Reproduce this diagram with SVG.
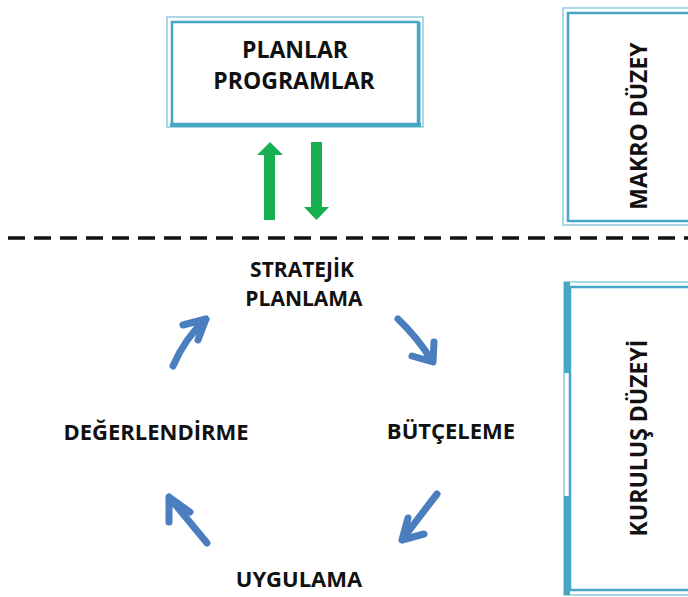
<svg xmlns="http://www.w3.org/2000/svg" width="688" height="597" viewBox="0 0 688 597">
<style>
.t{font-family:"Open Sans","Liberation Sans",sans-serif;font-weight:bold;fill:#111;text-anchor:middle}
.s{font-size:22px}
.m{font-size:21px}
.b{font-size:23px}
.ol{fill:none;stroke:#8fcbdb;stroke-width:1.5}
.il{fill:none;stroke:#46a6c4;stroke-width:2.5}
.ba{fill:none;stroke:#4a7ebf;stroke-width:7;stroke-linecap:round;stroke-linejoin:round}
.ga{fill:#16b050}
</style>
<rect width="688" height="597" fill="#fff"/>
<g id="planlar">
<rect class="ol" x="167" y="17" width="256" height="110"/>
<rect class="il" x="172" y="22" width="246" height="102"/>
<line x1="170" y1="125" x2="421" y2="125" stroke="#46a6c4" stroke-width="4"/>
<line x1="419" y1="22" x2="419" y2="126" stroke="#46a6c4" stroke-width="3"/>
<text class="t b" x="295" y="58">PLANLAR</text>
<text class="t b" x="294" y="89">PROGRAMLAR</text>
</g>
<g id="makro">
<rect class="ol" x="563" y="8" width="140" height="217"/>
<rect class="il" x="568" y="13" width="140" height="208"/>
<text class="t b" transform="translate(647,126) rotate(-90)">MAKRO DÜZEY</text>
</g>
<g id="kurulus">
<rect class="ol" x="564" y="282" width="140" height="313"/>
<rect class="il" x="570" y="287" width="140" height="303"/>
<rect x="564" y="282" width="6" height="91" fill="#46a6c4"/>
<rect x="564" y="496" width="6" height="99" fill="#46a6c4"/>
<text class="t b" transform="translate(647,438) rotate(-90)">KURULUŞ DÜZEYİ</text>
</g>
<g id="stratejik">
<text class="t m" x="302" y="277">STRATEJİK</text>
<text class="t m" x="304" y="306">PLANLAMA</text>
</g>
<g id="butceleme"><text class="t s" x="451" y="439">BÜTÇELEME</text></g>
<g id="uygulama"><text class="t s" x="299" y="587">UYGULAMA</text></g>
<g id="degerlendirme"><text class="t s" x="156" y="440">DEĞERLENDİRME</text></g>
<g id="connectors">
<line x1="0" y1="238" x2="688" y2="238" stroke="#111" stroke-width="3.5" stroke-dasharray="17,9" stroke-dashoffset="-8"/>
<path class="ga" d="M264,220 L275,220 L275,155 L283,155 L270,142 L257,155 L264,155 Z"/>
<path class="ga" d="M311,142 L322,142 L322,207 L329,207 L316.5,220 L304,207 L311,207 Z"/>
<path class="ba" d="M398,319 Q418,338 432,361 M412,356 L433,362 L434,342"/>
<path class="ba" d="M437,494 Q420,516 402,540 M408,518 L402,540 L424,534"/>
<path class="ba" d="M207,543 Q188,520 169,497 M190,512 L169,497 L169,522"/>
<path class="ba" d="M173,366 Q185,338 206,319 M183,325 L206,319 L198,340"/>
</g>
</svg>
